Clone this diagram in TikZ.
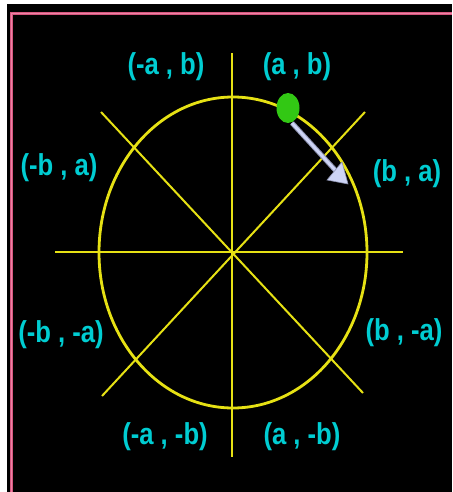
\documentclass[tikz,border=0pt]{standalone}
\usepackage{fontspec}
\setmainfont{Liberation Sans}
\definecolor{lblcyan}{RGB}{0,205,210}
\definecolor{circyellow}{RGB}{230,225,20}
\definecolor{pinkline}{RGB}{215,85,125}
\definecolor{pinkinner}{RGB}{235,130,165}
\definecolor{dotgreen}{RGB}{50,200,20}
\definecolor{arrowfill}{RGB}{205,212,245}
\definecolor{arrowedge}{RGB}{140,145,175}
\tikzset{
  lbl/.style={text=lblcyan, inner sep=0pt, font=\fontsize{27}{27}\selectfont\bfseries},
  axis/.style={draw=circyellow, line width=2pt},
}
\newcommand{\tallt}[1]{\scalebox{0.95}[1.12]{#1}}
\begin{document}
\begin{tikzpicture}[x=1pt,y=-1pt]
\useasboundingbox (0,0) rectangle (452,492);
\fill[white] (0,0) rectangle (452,492);
\fill[black] (7,4) rectangle (452,492);
\draw[pinkline, line width=3pt] (452,13.3) -- (11.7,13.3) -- (11.7,492);
\draw[pinkinner, line width=1pt] (452,13.3) -- (11.7,13.3) -- (11.7,492);
% axes
\coordinate (c) at (232,252);
\draw[axis] (55,252) -- (403,252);
\draw[axis] (232,53) -- (232,457);
\draw[axis] (101,112) -- (363,393);
\draw[axis] (365,112) -- (102,396);
\draw[circyellow, line width=2.8pt] (233,252.5) ellipse [x radius=134, y radius=155.5];
% arrow
\coordinate (as) at (292,123);
\coordinate (ae) at (336,171);
\draw[arrowedge, line width=5pt] (as) -- (ae);
\draw[arrowfill, line width=3pt] (as) -- (ae);
\filldraw[fill=arrowfill, draw=arrowedge, line width=0.6pt] (327,180) -- (348,184) -- (342,162) -- cycle;
% dot
\fill[dotgreen] (288,108) ellipse [x radius=11.5, y radius=15];
% labels
\node[lbl] (nab) at (297,67) {\tallt{(a , b)}};
\node[lbl] (nmab) at (166,67) {\tallt{(-a , b)}};
\node[lbl] (nmba) at (59,168) {\tallt{(-b , a)}};
\node[lbl] (nba) at (407,174) {\tallt{(b , a)}};
\node[lbl] (nmbma) at (61,335) {\tallt{(-b , -a)}};
\node[lbl] (nbma) at (404,333) {\tallt{(b , -a)}};
\node[lbl] (nmamb) at (165,437) {\tallt{(-a , -b)}};
\node[lbl] (namb) at (302,437) {\tallt{(a , -b)}};
\end{tikzpicture}
\end{document}
